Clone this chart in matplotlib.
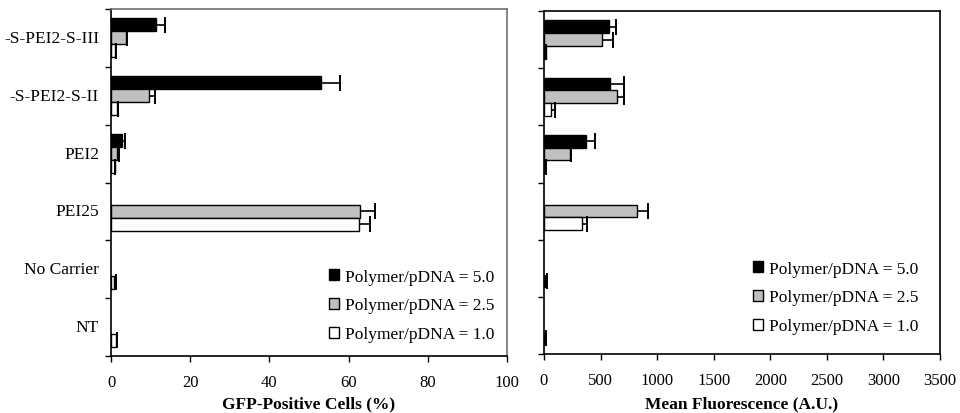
import numpy as np
import matplotlib
matplotlib.use("Agg")
import matplotlib.pyplot as plt
from matplotlib.patches import Patch

plt.rcParams['font.family'] = ['Liberation Serif', 'DejaVu Serif']

categories = ['-S-PEI2-S-III', '-S-PEI2-S-II', 'PEI2', 'PEI25', 'No Carrier', 'NT']
series_labels = ['Polymer/pDNA = 5.0', 'Polymer/pDNA = 2.5', 'Polymer/pDNA = 1.0']
series_colors = ['#000000', '#c0c0c0', '#ffffff']

nan = np.nan
# GFP-positive cells (%)
gfp_5 = [11.4, 53.0, 2.8, nan, nan, nan]
gfp_5_err = [2.3, 4.9, 0.8, nan, nan, nan]
gfp_25 = [3.7, 9.5, 1.6, 63.0, nan, nan]
gfp_25_err = [0.3, 1.7, 0.4, 3.6, nan, nan]
gfp_1 = [0.9, 1.4, 0.9, 62.5, 0.8, 1.2]
gfp_1_err = [0.3, 0.3, 0.2, 2.8, 0.4, 0.3]

# Mean fluorescence (A.U.)
mf_5 = [572, 586, 369, nan, nan, nan]
mf_5_err = [61, 120, 82, nan, nan, nan]
mf_25 = [513, 648, 232, 824, nan, nan]
mf_25_err = [97, 58, 11, 94, nan, nan]
mf_1 = [15, 59, 10, 340, 8, 12]
mf_1_err = [6, 38, 5, 44, 18, 6]

gfp_ticks = [0, 20, 40, 60, 80, 100]
mf_ticks = [0, 500, 1000, 1500, 2000, 2500, 3000, 3500]

fig = plt.figure(figsize=(9.6, 4.14), dpi=100)
axL = fig.add_axes([111/960, 1-357/414, (507-111)/960, (357-10)/414])
axR = fig.add_axes([544/960, 1-355/414, (940-544)/960, (355-12)/414])

n = len(categories)
ypos = np.arange(n)[::-1]
h = 0.224
offsets = [h, 0.0, -h]


def draw(ax, vals, errs, xmax, ticks, xlabel, legend_anchor, label_y):
    for v, e, off, c, lab in zip(vals, errs, offsets, series_colors, series_labels):
        v = np.array(v, float)
        e = np.array(e, float)
        ax.barh(ypos + off, v, height=h, color=c, edgecolor='black', linewidth=1.0, label=lab)
        m = ~np.isnan(v)
        eb = ax.errorbar(v[m], (ypos + off)[m], xerr=[np.zeros(m.sum()), e[m]], fmt='none',
                         ecolor='black', elinewidth=1.2, capsize=6, capthick=1.4)
        caps = eb[1]
        if len(caps) == 2:
            caps[0].set_visible(False)
    ax.set_xlim(0, xmax)
    ax.set_ylim(-0.5, n - 0.5)
    ax.set_xticks(ticks)
    ax.set_xticklabels([str(t) for t in ticks], fontsize=12)
    ax.set_yticks(np.arange(n + 1) - 0.5)
    ax.set_yticklabels([])
    ax.tick_params(axis='both', direction='out', length=4, width=1, pad=9)
    ax.set_xlabel(xlabel, fontsize=12.5, fontweight='bold')
    ax.xaxis.set_label_coords(0.5, label_y)
    ax.xaxis.label.set_va('center')
    handles = [Patch(facecolor=c, edgecolor='black', linewidth=1.0) for c in series_colors]
    ax.legend(handles, series_labels, loc='center left', bbox_to_anchor=legend_anchor,
              frameon=False, fontsize=12.5, handlelength=0.6, handleheight=0.6,
              handletextpad=0.35, labelspacing=0.74, borderpad=0, borderaxespad=0)


draw(axL, [gfp_5, gfp_25, gfp_1], [gfp_5_err, gfp_25_err, gfp_1_err], 100, gfp_ticks,
     'GFP-Positive Cells (%)', ((329 - 111) / 396, 1 - (306.5 - 10) / 347), (357 - 404) / 347)
draw(axR, [mf_5, mf_25, mf_1], [mf_5_err, mf_25_err, mf_1_err], 3500, mf_ticks,
     'Mean Fluorescence (A.U.)', ((753 - 544) / 396, 1 - (298.5 - 12) / 343), (355 - 404) / 343)

for y, lab in zip(ypos, categories):
    axL.text(-0.03, y, lab, transform=axL.get_yaxis_transform(), ha='right', va='center', fontsize=12.5)

for sp in ['top', 'right']:
    axL.spines[sp].set_color('#707070')
for ax in (axL, axR):
    for sp in ax.spines.values():
        sp.set_linewidth(1.2)

fig.savefig('out.png', dpi=100, facecolor='white')
